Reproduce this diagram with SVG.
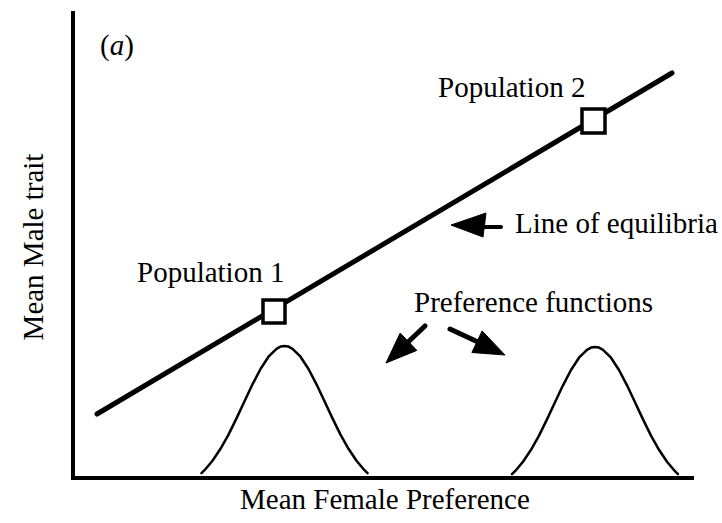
<svg xmlns="http://www.w3.org/2000/svg" width="722" height="523" viewBox="0 0 722 523">
  <style>
    .t { font-family: "Liberation Serif", "Times New Roman", serif; font-size: 29px; fill: #000; }
    .axis { stroke: #000; stroke-width: 4; fill: none; stroke-linecap: square; }
    .eq { stroke: #000; stroke-width: 5; fill: none; stroke-linecap: round; }
    .sq { fill: #fff; stroke: #000; stroke-width: 3.5; }
    .bell { fill: none; stroke: #000; stroke-width: 2.5; stroke-linejoin: round; stroke-linecap: round; }
    .shaft { stroke: #000; fill: none; stroke-linecap: round; }
    .head { fill: #000; stroke: #000; stroke-width: 1; stroke-linejoin: round; }
  </style>
  <defs>
    <path id="bellshape" class="bell" d="M-83,473.2 L-80,470.2 L-72,460.8 L-64,448.8 L-56,434.6 L-48,418.4 L-40,401.3 L-32,384.3 L-24,369 L-16,356.7 L-8,348.8 L-4,346.6 L0,346 L4,346.6 L8,348.8 L16,356.7 L24,369 L32,384.3 L40,401.3 L48,418.4 L56,434.6 L64,448.8 L72,460.8 L80,470.2 L83,473.2"/>
  </defs>
  <rect x="0" y="0" width="722" height="523" fill="#fff"/>

  <g id="axes">
    <line class="axis" x1="73" y1="13" x2="73" y2="478"/>
    <line class="axis" x1="73" y1="478" x2="692" y2="478"/>
  </g>

  <g id="equilibrium-line">
    <line class="eq" x1="97" y1="414" x2="672" y2="73"/>
  </g>

  <g id="bell1">
    <use href="#bellshape" transform="translate(284.5,0)"/>
  </g>
  <g id="bell2">
    <use href="#bellshape" transform="translate(595,1)"/>
  </g>

  <g id="population1">
    <rect class="sq" x="263" y="300" width="22" height="23"/>
    <text class="t" x="137" y="282">Population 1</text>
  </g>
  <g id="population2">
    <rect class="sq" x="582" y="109" width="23" height="24"/>
    <text class="t" x="438" y="97">Population 2</text>
  </g>

  <g id="connectors">
    <line class="shaft" stroke-width="4" x1="482" y1="227" x2="501" y2="227"/>
    <polygon class="head" points="451,225 486,213 483,237"/>
    <line class="shaft" stroke-width="5" x1="425" y1="326" x2="406" y2="344"/>
    <polygon class="head" points="386,363 400.2,333 416.8,350.4"/>
    <line class="shaft" stroke-width="5" x1="450" y1="329" x2="479" y2="342.5"/>
    <polygon class="head" points="505,355 471.9,352.5 482.1,330.9"/>
  </g>

  <g id="labels">
    <text class="t" x="100" y="55">(<tspan font-style="italic">a</tspan>)</text>
    <text class="t" x="515" y="233">Line of equilibria</text>
    <text class="t" x="414" y="312">Preference functions</text>
    <text class="t" x="240" y="509">Mean Female Preference</text>
    <text class="t" text-anchor="middle" transform="translate(43,247) rotate(-90)">Mean Male trait</text>
  </g>
</svg>
